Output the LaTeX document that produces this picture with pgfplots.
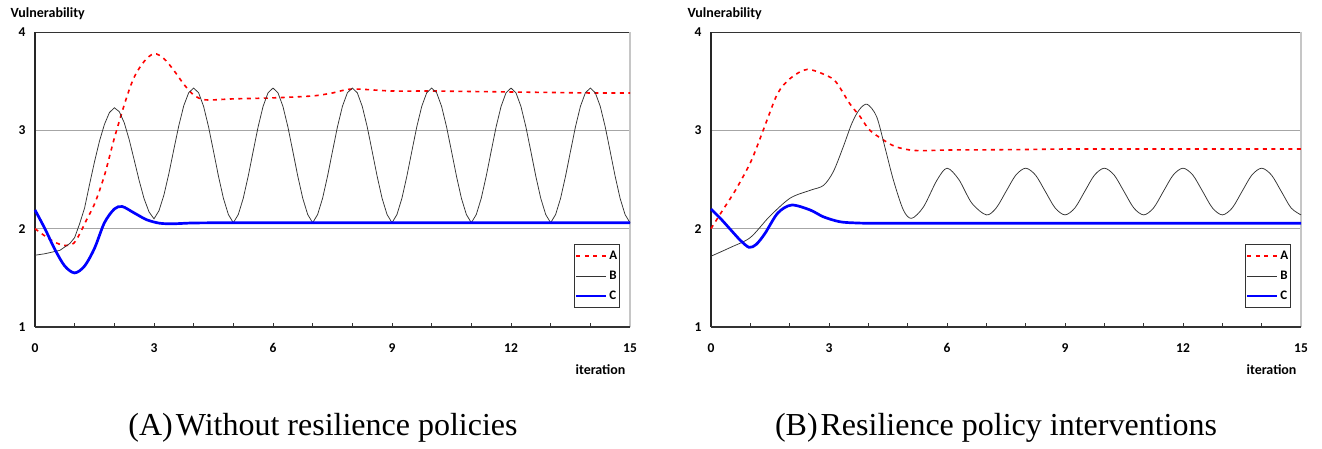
\documentclass[border=0pt]{standalone}
\usepackage{pgfplots}
\pgfplotsset{compat=1.18}
\usepackage{fontspec}
\setmainfont{Liberation Serif}
\newfontfamily\carlito{Carlito}
\definecolor{gridgray}{HTML}{A6A6A6}
\pgfplotsset{
  panel/.style={
    scale only axis, height=295pt,
    xmin=0, xmax=15, ymin=1, ymax=4,
    axis line style={draw=none},
    xtick={0,3,...,15}, minor xtick={0,1,...,15},
    ytick={1,2,3,4},
    xtick pos=bottom, ytick pos=left,
    tick align=inside,
    major tick length=4pt, minor tick length=4pt,
    xtick style={black!80, line width=0.8pt},
    minor tick style={black!80, line width=0.8pt},
    ytick style={draw=none},
    ymajorgrids, grid style={gridgray, line width=1pt},
    /pgf/number format/assume math mode=true,
    ticklabel style={font=\carlito\bfseries\fontsize{13.5}{15}\selectfont},
    xticklabel style={yshift=-13pt},
    yticklabel style={xshift=-6pt},
    clip=false,
    legend style={at={(1,0)}, anchor=south east, xshift=-10pt, yshift=19pt,
      draw=black!80, line width=0.7pt, inner xsep=1pt, inner ysep=4.5pt,
      font=\carlito\bfseries\fontsize{13}{15}\selectfont, row sep=6pt,
      nodes={inner xsep=1.5pt}},
    legend cell align=left,
    legend image code/.code={\draw[##1] (0pt,0pt) -- (30pt,0pt);},
  },
  serA/.style={red, line width=1.6pt, dash pattern=on 4pt off 4.5pt},
  serB/.style={black!80, line width=0.75pt},
  serC/.style={blue, line width=2.7pt},
}
\newcommand\panelframe{%
  \draw[black!80, line width=0.8pt] (axis cs:0,4) -- (axis cs:15,4);
  \draw[gray!45, line width=1.8pt] (axis cs:15,4) -- (axis cs:15,1);
  \draw[black!85, line width=1.3pt] (axis cs:0,4) -- (axis cs:0,1);
  \draw[black!80, line width=1.8pt] (axis cs:0,1) -- (axis cs:15,1);
}
\begin{document}
\begin{tikzpicture}[x=1pt,y=1pt]
\useasboundingbox (0,0) rectangle (1322,448);
% ---------------- Left panel ----------------
\begin{axis}[panel, width=595pt, at={(35pt,121pt)}, anchor=south west]
\panelframe
\addplot[serA, smooth] table {
0 2.00
0.38 1.89
0.71 1.83
0.97 1.85
1.13 1.95
1.30 2.09
1.51 2.26
1.75 2.54
2.0 2.92
2.29 3.31
2.5 3.54
2.75 3.70
3.0 3.78
3.25 3.73
3.5 3.61
3.75 3.47
4.0 3.36
4.3 3.31
5 3.32
6 3.33
7 3.35
7.5 3.38
8 3.42
9 3.40
10 3.40
11 3.395
12 3.39
13 3.385
14 3.38
15 3.38
};
\addlegendentry{A}
\addplot[serB] table {
0 1.73
0.25 1.745
0.63 1.78
0.88 1.85
1.0 1.91
1.125 2.05
1.25 2.21
1.375 2.45
1.5 2.68
1.625 2.89
1.75 3.06
1.875 3.18
2.0 3.23
2.125 3.190
2.25 3.077
2.375 2.905
2.5 2.700
2.625 2.491
2.75 2.305
2.875 2.170
3.0 2.100
3.125 2.182
3.25 2.342
3.375 2.560
3.5 2.806
3.625 3.047
3.75 3.250
3.875 3.383
4.000 3.430
4.125 3.382
4.250 3.244
4.375 3.036
4.500 2.787
4.625 2.534
4.750 2.309
4.875 2.144
5.000 2.060
5.125 2.144
5.250 2.309
5.375 2.534
5.500 2.787
5.625 3.036
5.750 3.244
5.875 3.382
6.000 3.430
6.125 3.382
6.250 3.244
6.375 3.036
6.500 2.787
6.625 2.534
6.750 2.309
6.875 2.144
7.000 2.060
7.125 2.144
7.250 2.309
7.375 2.534
7.500 2.787
7.625 3.036
7.750 3.244
7.875 3.382
8.000 3.430
8.125 3.382
8.250 3.244
8.375 3.036
8.500 2.787
8.625 2.534
8.750 2.309
8.875 2.144
9.000 2.060
9.125 2.144
9.250 2.309
9.375 2.534
9.500 2.787
9.625 3.036
9.750 3.244
9.875 3.382
10.000 3.430
10.125 3.382
10.250 3.244
10.375 3.036
10.500 2.787
10.625 2.534
10.750 2.309
10.875 2.144
11.000 2.060
11.125 2.144
11.250 2.309
11.375 2.534
11.500 2.787
11.625 3.036
11.750 3.244
11.875 3.382
12.000 3.430
12.125 3.382
12.250 3.244
12.375 3.036
12.500 2.787
12.625 2.534
12.750 2.309
12.875 2.144
13.000 2.060
13.125 2.144
13.250 2.309
13.375 2.534
13.500 2.787
13.625 3.036
13.750 3.244
13.875 3.382
14.000 3.430
14.125 3.382
14.250 3.244
14.375 3.036
14.500 2.787
14.625 2.534
14.750 2.309
14.875 2.144
15.000 2.060
};
\addlegendentry{B}
\addplot[serC, smooth] table {
0 2.19
0.25 2.00
0.5 1.79
0.75 1.62
1.0 1.55
1.25 1.62
1.5 1.80
1.75 2.06
2.0 2.20
2.2 2.225
2.5 2.16
2.82 2.09
3.15 2.055
3.5 2.05
4.0 2.058
5 2.06
6 2.06
7 2.06
8 2.06
9 2.06
10 2.06
11 2.06
12 2.06
13 2.06
14 2.06
15 2.06
};
\addlegendentry{C}
\end{axis}
\node[anchor=west, font=\carlito\bfseries\fontsize{14}{16}\selectfont] at (7,434) {Vulnerability};
\node[anchor=east, font=\carlito\bfseries\fontsize{14}{16}\selectfont] at (629,78) {iteration};
\node[anchor=base, font=\fontsize{32}{36}\selectfont] at (323,13) {(A)\hspace{3pt}Without resilience policies};
% ---------------- Right panel ----------------
\begin{axis}[panel, width=590pt, at={(711pt,121pt)}, anchor=south west]
\panelframe
\addplot[serA, smooth] table {
0 2.0
0.3 2.19
0.62 2.39
1.0 2.67
1.27 2.94
1.43 3.11
1.7 3.38
2.02 3.53
2.45 3.62
2.98 3.55
3.2 3.48
3.53 3.27
3.79 3.14
4.04 3.00
4.47 2.88
4.72 2.83
5.06 2.80
5.4 2.793
6 2.80
7 2.802
8 2.805
9 2.81
10 2.81
11 2.81
12 2.81
13 2.81
14 2.81
15 2.81
};
\addlegendentry{A}
\addplot[serB, smooth] table {
0 1.72
0.5 1.81
1.0 1.91
1.48 2.12
2.01 2.31
2.52 2.39
2.86 2.44
3.11 2.58
3.36 2.83
3.58 3.07
3.77 3.21
3.97 3.265
4.21 3.14
4.42 2.83
4.64 2.49
4.89 2.19
5.10 2.105
5.40 2.22
5.74 2.49
6.0 2.615
6.3 2.50
6.63 2.26
7.0 2.14
7.25 2.21
7.5 2.378
7.75 2.545
8 2.615
8.25 2.545
8.5 2.378
8.75 2.21
9 2.14
9.25 2.21
9.5 2.378
9.75 2.545
10 2.615
10.25 2.545
10.5 2.378
10.75 2.21
11 2.14
11.25 2.21
11.5 2.378
11.75 2.545
12 2.615
12.25 2.545
12.5 2.378
12.75 2.21
13 2.14
13.25 2.21
13.5 2.378
13.75 2.545
14 2.615
14.25 2.545
14.5 2.378
14.75 2.21
15 2.14
};
\addlegendentry{B}
\addplot[serC, smooth] table {
0 2.20
0.25 2.10
0.52 1.98
0.75 1.88
0.97 1.81
1.15 1.84
1.37 1.95
1.7 2.16
2.05 2.24
2.52 2.19
2.86 2.12
3.28 2.07
3.7 2.058
4.1 2.055
5 2.055
6 2.055
7 2.055
8 2.055
9 2.055
10 2.055
11 2.055
12 2.055
13 2.055
14 2.055
15 2.055
};
\addlegendentry{C}
\end{axis}
\node[anchor=west, font=\carlito\bfseries\fontsize{14}{16}\selectfont] at (684,434) {Vulnerability};
\node[anchor=east, font=\carlito\bfseries\fontsize{14}{16}\selectfont] at (1300,78) {iteration};
\node[anchor=base, font=\fontsize{32}{36}\selectfont] at (996,13) {(B)\hspace{3pt}Resilience policy interventions};
\end{tikzpicture}
\end{document}
